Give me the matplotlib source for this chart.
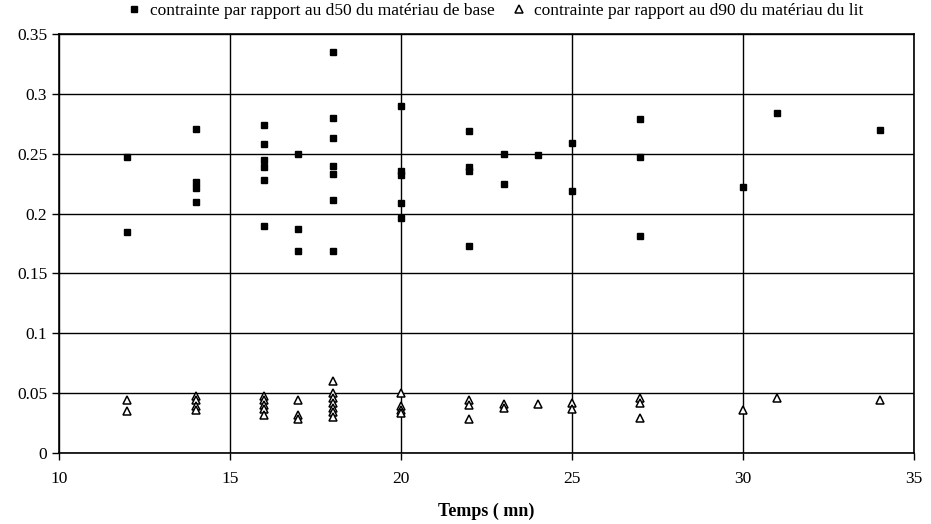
import matplotlib
matplotlib.use("Agg")
import matplotlib.pyplot as plt

plt.rcParams['font.family'] = ['Liberation Serif', 'DejaVu Serif']

# contrainte / d50 materiau de base
t_d50 = [12, 12,
         14, 14, 14, 14,
         16, 16, 16, 16, 16, 16,
         17, 17, 17,
         18, 18, 18, 18, 18, 18, 18,
         20, 20, 20, 20, 20,
         22, 22, 22, 22,
         23, 23,
         24,
         25, 25,
         27, 27, 27,
         30, 31, 34]
c_d50 = [0.247, 0.185,
         0.271, 0.226, 0.221, 0.210,
         0.274, 0.258, 0.245, 0.239, 0.228, 0.190,
         0.250, 0.187, 0.169,
         0.335, 0.280, 0.263, 0.240, 0.233, 0.211, 0.169,
         0.290, 0.236, 0.232, 0.209, 0.196,
         0.269, 0.239, 0.236, 0.173,
         0.250, 0.225,
         0.249,
         0.259, 0.219,
         0.279, 0.247, 0.181,
         0.222, 0.284, 0.270]

# contrainte / d90 materiau du lit
t_d90 = [12, 12,
         14, 14, 14, 14,
         16, 16, 16, 16, 16,
         17, 17, 17,
         18, 18, 18, 18, 18, 18, 18,
         20, 20, 20, 20,
         22, 22, 22,
         23, 23,
         24,
         25, 25,
         27, 27, 27,
         30, 31, 34]
c_d90 = [0.044, 0.035,
         0.048, 0.044, 0.039, 0.036,
         0.048, 0.044, 0.040, 0.037, 0.032,
         0.044, 0.032, 0.028,
         0.060, 0.050, 0.046, 0.042, 0.038, 0.034, 0.030,
         0.050, 0.039, 0.036, 0.033,
         0.044, 0.040, 0.028,
         0.041, 0.038,
         0.041,
         0.042, 0.037,
         0.046, 0.042, 0.029,
         0.036, 0.046, 0.044]

xticks = [10, 15, 20, 25, 30, 35]
yticks = [0, 0.05, 0.1, 0.15, 0.2, 0.25, 0.3, 0.35]
ylabels = ['0', '0.05', '0.1', '0.15', '0.2', '0.25', '0.3', '0.35']

fig = plt.figure(figsize=(9.31, 5.24), dpi=100)
ax = fig.add_axes([0.0634, 0.1355, 0.9183, 0.7995])

ax.plot(t_d50, c_d50, ls='none', marker='s', ms=4.5, color='black',
        label='contrainte par rapport au d50 du matériau de base', zorder=3)
ax.plot(t_d90, c_d90, ls='none', marker='^', ms=5.5, mfc='white', mec='black',
        mew=1.1, label='contrainte par rapport au d90 du matériau du lit', zorder=3)

ax.set_xlim(10, 35)
ax.set_ylim(0, 0.35)
ax.set_xticks(xticks)
ax.set_yticks(yticks)
ax.set_yticklabels(ylabels)
ax.grid(True, color='black', lw=1.0)
ax.set_axisbelow(True)
for s in ax.spines.values():
    s.set_linewidth(1.2)
ax.tick_params(direction='out', length=5, width=1, labelsize=12.5, colors='black')
ax.tick_params(axis='x', pad=8)
ax.set_xlabel('Temps ( mn)', fontsize=13, fontweight='bold', labelpad=11)

fig.legend(loc='center', bbox_to_anchor=(0.532, 0.979), ncol=2, frameon=False,
           fontsize=12.5, handlelength=0.8, handletextpad=0.5, columnspacing=1.0,
           borderpad=0)

fig.savefig('out.png', dpi=100)
